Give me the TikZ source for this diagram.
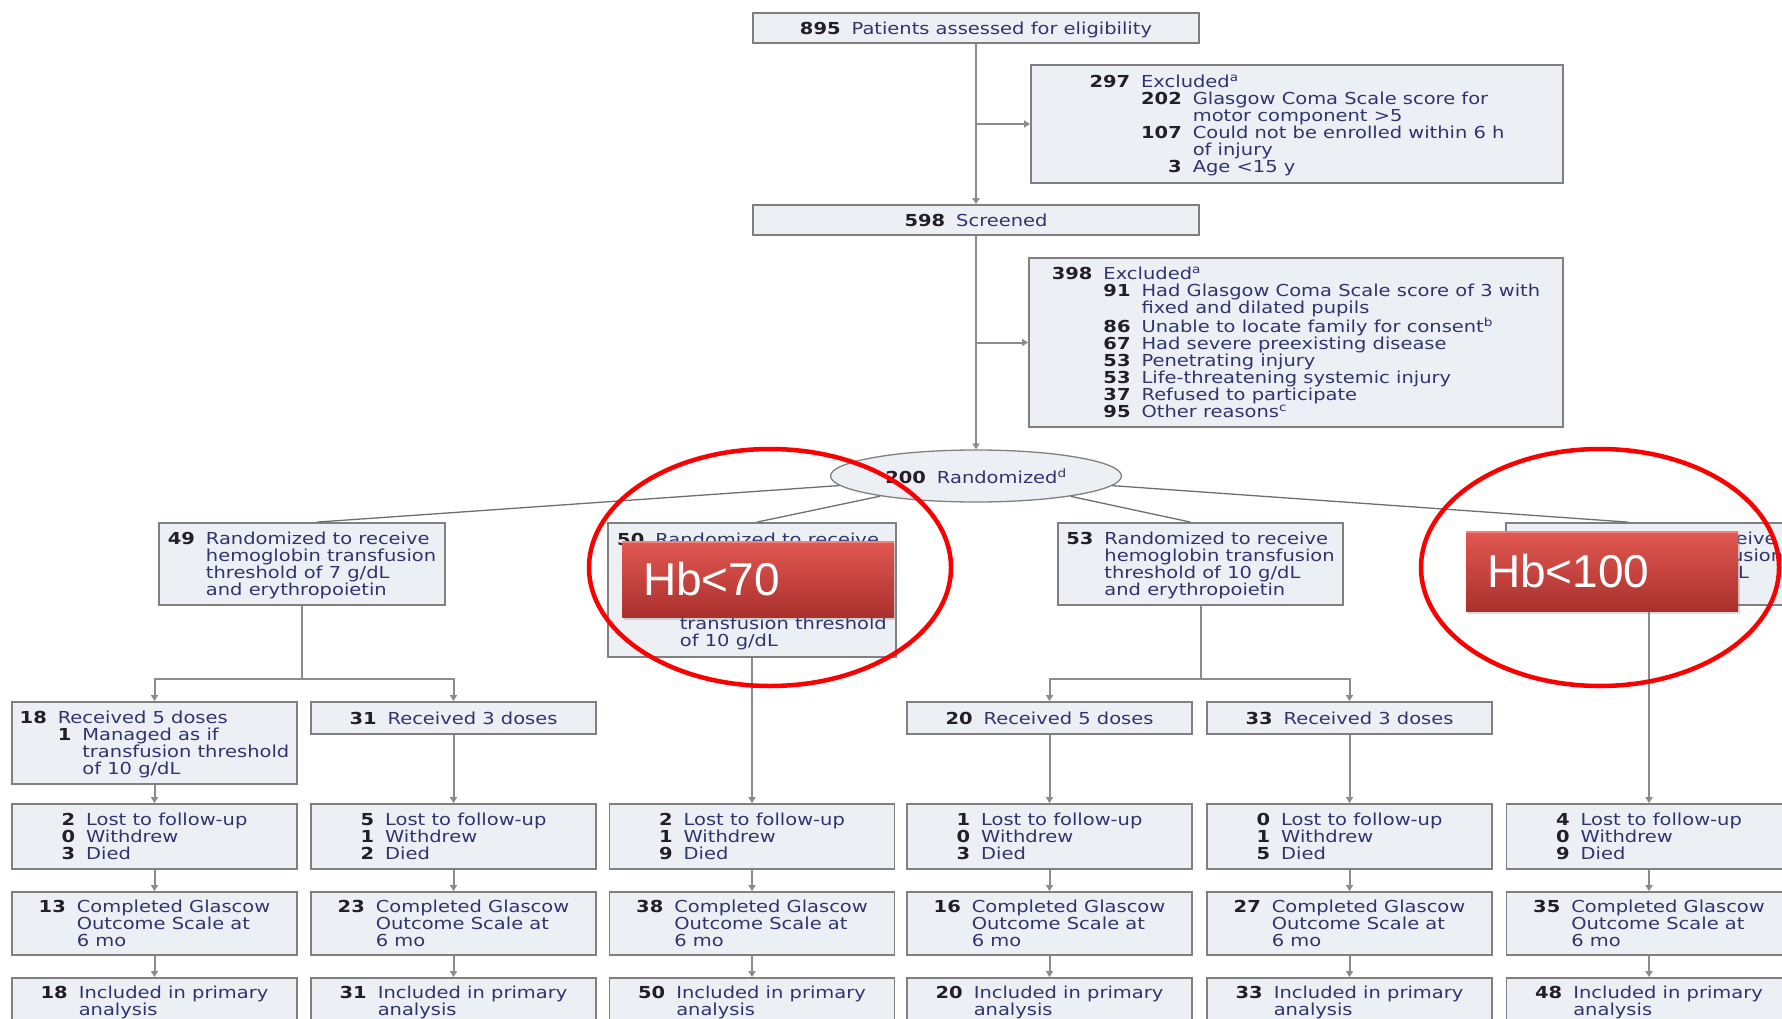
\documentclass[tikz,border=0pt]{standalone}
\usepackage{fontspec}
\setmainfont{DejaVu Sans}[FakeStretch=1.18]
\newfontfamily\hbfont{Liberation Sans}
\usepackage{tikz}
\usetikzlibrary{arrows.meta, shapes.geometric, shadows, positioning}
\definecolor{boxfill}{RGB}{236,240,244}
\definecolor{boxline}{RGB}{128,128,128}
\definecolor{flow}{RGB}{140,140,140}
\definecolor{fineline}{RGB}{110,110,110}
\definecolor{txtblue}{RGB}{48,52,110}
\definecolor{numdark}{RGB}{35,30,40}
\definecolor{hbtop}{RGB}{226,88,82}
\definecolor{hbbot}{RGB}{170,48,45}
\definecolor{hbhi}{RGB}{240,130,125}
\definecolor{ring}{RGB}{250,0,0}

\newcommand{\boxfont}{\fontsize{16.5}{16.9}\selectfont\setbox\strutbox\hbox{\vrule height 12.6pt depth 4.3pt width 0pt}}
\newcommand{\nm}[1]{\textcolor{numdark}{\bfseries #1}}
\newcommand{\rows}[1]{\raisebox{-2pt}[\height][\depth]{\begin{tabular}{@{}r@{\hspace{11pt}}l@{}}#1\end{tabular}}}
\newcommand{\subrows}[1]{\raisebox{-2pt}[\height][\depth]{\begin{tabular}{@{}r@{\hspace{11pt}}r@{\hspace{11pt}}l@{}}#1\end{tabular}}}

\begin{document}
\begin{tikzpicture}[x=1pt, y=-1pt,
        box/.style={draw=boxline, line width=1.8pt, fill=boxfill, text=txtblue, inner sep=4pt, font=\boxfont},
        col/.style={box, minimum width=285pt},
        arr/.style={draw=flow, line width=2pt, -{Triangle[length=6pt, width=7pt]}},
        line/.style={draw=flow, line width=2pt},
        fine/.style={draw=fineline, line width=1.3pt},
        hblabel/.style={minimum width=272pt, text width=230pt, inner xsep=21pt, align=left,
            top color=hbtop, bottom color=hbbot, text=white, font=\hbfont\fontsize{46}{50}\selectfont,
            drop shadow={shadow xshift=2pt, shadow yshift=-3pt, opacity=0.3},
            path picture={\draw[hbhi, line width=4pt] (path picture bounding box.north west) -- (path picture bounding box.north east);}},
        ringline/.style={draw=ring, line width=4.5pt}]
    \path[use as bounding box] (0,0) rectangle (1782,1019);
    \clip (0,0) rectangle (1782,1019);

    % screening
    \node[box, minimum width=446pt, minimum height=30pt] (top) at (976,28) {\rows{\nm{895} & Patients assessed for eligibility}};
    \node[box, minimum width=532pt, minimum height=118pt] (excl1) at (1297,124) {\subrows{\nm{297} & \multicolumn{2}{@{}l@{}}{Excluded\textsuperscript{a}}\\
        & \nm{202} & Glasgow Coma Scale score for\\
        & & motor component >5\\
        & \nm{107} & Could not be enrolled within 6 h\\
        & & of injury\\
        & \nm{3} & Age <15 y}};
    \node[box, minimum width=446pt, minimum height=30pt] (screened) at (976,220) {\rows{\nm{598} & Screened}};
    \node[box, minimum width=534pt, minimum height=169pt] (excl2) at (1296,342.5) {\subrows{\nm{398} & \multicolumn{2}{@{}l@{}}{Excluded\textsuperscript{a}}\\
        & \nm{91} & Had Glasgow Coma Scale score of 3 with\\
        & & fixed and dilated pupils\\
        & \nm{86} & Unable to locate family for consent\textsuperscript{b}\\
        & \nm{67} & Had severe preexisting disease\\
        & \nm{53} & Penetrating injury\\
        & \nm{53} & Life-threatening systemic injury\\
        & \nm{37} & Refused to participate\\
        & \nm{95} & Other reasons\textsuperscript{c}}};
    \node[box, ellipse, line width=1.3pt, minimum width=291pt, minimum height=52pt] (rand) at (976,476) {\nm{200}\hspace{11pt}Randomized\textsuperscript{d}};

    % arms
    \node[box, minimum width=286pt, minimum height=82pt] (armA) at (302,564) {\rows{\nm{49} & Randomized to receive\\
        & hemoglobin transfusion\\ & threshold of 7 g/dL\\ & and erythropoietin}};
    \node[box, minimum width=288pt, minimum height=134pt] (armB) at (752,590) {\subrows{\nm{50} & \multicolumn{2}{@{}l@{}}{Randomized to receive}\\
        & & \\ & & \\ & & \\ & \phantom{\nm{0}} & \\
        & & transfusion threshold\\ & & of 10 g/dL}};
    \node[box, minimum width=285pt, minimum height=82pt] (armC) at (1200.5,564) {\rows{\nm{53} & Randomized to receive\\
        & hemoglobin transfusion\\ & threshold of 10 g/dL\\ & and erythropoietin}};
    \node[box, minimum width=286pt, minimum height=82pt] (armD) at (1649,564) {\rows{\phantom{\nm{48}} & Randomized to receive\\
        & hemoglobin transfusion\\ & threshold of 10 g/dL\\ & }};

    % doses
    \node[col, minimum height=82pt] (recA5) at (154.5,743) {\subrows{\nm{18} & \multicolumn{2}{@{}l@{}}{Received 5 doses}\\
        & \nm{1} & Managed as if\\ & & transfusion threshold\\ & & of 10 g/dL}};
    \node[col, minimum height=32pt] (recA3) at (453.5,718) {\rows{\nm{31} & Received 3 doses}};
    \node[col, minimum height=32pt] (recC5) at (1049.5,718) {\rows{\nm{20} & Received 5 doses}};
    \node[col, minimum height=32pt] (recC3) at (1349.5,718) {\rows{\nm{33} & Received 3 doses}};

    % follow-up
    \node[col, minimum height=65pt] (lost0) at (154.5,836.5) {\rows{\nm{2} & Lost to follow-up\\ \nm{0} & Withdrew\\ \nm{3} & Died}};
    \node[col, minimum height=65pt] (lost1) at (453.5,836.5) {\rows{\nm{5} & Lost to follow-up\\ \nm{1} & Withdrew\\ \nm{2} & Died}};
    \node[col, minimum height=65pt] (lost2) at (752,836.5) {\rows{\nm{2} & Lost to follow-up\\ \nm{1} & Withdrew\\ \nm{9} & Died}};
    \node[col, minimum height=65pt] (lost3) at (1049.5,836.5) {\rows{\nm{1} & Lost to follow-up\\ \nm{0} & Withdrew\\ \nm{3} & Died}};
    \node[col, minimum height=65pt] (lost4) at (1349.5,836.5) {\rows{\nm{0} & Lost to follow-up\\ \nm{1} & Withdrew\\ \nm{5} & Died}};
    \node[col, minimum height=65pt] (lost5) at (1649,836.5) {\rows{\nm{4} & Lost to follow-up\\ \nm{0} & Withdrew\\ \nm{9} & Died}};

    \node[col, minimum height=63pt] (comp0) at (154.5,923.5) {\rows{\nm{13} & Completed Glascow\\ & Outcome Scale at\\ & 6 mo}};
    \node[col, minimum height=63pt] (comp1) at (453.5,923.5) {\rows{\nm{23} & Completed Glascow\\ & Outcome Scale at\\ & 6 mo}};
    \node[col, minimum height=63pt] (comp2) at (752,923.5) {\rows{\nm{38} & Completed Glascow\\ & Outcome Scale at\\ & 6 mo}};
    \node[col, minimum height=63pt] (comp3) at (1049.5,923.5) {\rows{\nm{16} & Completed Glascow\\ & Outcome Scale at\\ & 6 mo}};
    \node[col, minimum height=63pt] (comp4) at (1349.5,923.5) {\rows{\nm{27} & Completed Glascow\\ & Outcome Scale at\\ & 6 mo}};
    \node[col, minimum height=63pt] (comp5) at (1649,923.5) {\rows{\nm{35} & Completed Glascow\\ & Outcome Scale at\\ & 6 mo}};

    \node[col, minimum height=46pt] (incl0) at (154.5,1001) {\rows{\nm{18} & Included in primary\\ & analysis}};
    \node[col, minimum height=46pt] (incl1) at (453.5,1001) {\rows{\nm{31} & Included in primary\\ & analysis}};
    \node[col, minimum height=46pt] (incl2) at (752,1001) {\rows{\nm{50} & Included in primary\\ & analysis}};
    \node[col, minimum height=46pt] (incl3) at (1049.5,1001) {\rows{\nm{20} & Included in primary\\ & analysis}};
    \node[col, minimum height=46pt] (incl4) at (1349.5,1001) {\rows{\nm{33} & Included in primary\\ & analysis}};
    \node[col, minimum height=46pt] (incl5) at (1649,1001) {\rows{\nm{48} & Included in primary\\ & analysis}};

    % connectors
    \draw[arr] (top.south) -- (screened.north);
    \draw[arr] (top.south |- excl1.west) -- (excl1.west);
    \draw[arr] (screened.south) -- (rand.north);
    \draw[arr] (screened.south |- excl2.west) -- (excl2.west);

    \draw[fine] (rand) -- ([xshift=15pt]armA.north);
    \draw[fine] (rand) -- ([xshift=5pt]armB.north);
    \draw[fine] (rand) -- ([xshift=-10pt]armC.north);
    \draw[fine] (rand) -- ([xshift=-21pt]armD.north);

    \coordinate (splitA) at (armA.south |- 0,679);
    \coordinate (splitC) at (armC.south |- 0,679);
    \draw[line] (armA.south) -- (splitA);
    \draw[arr] (splitA) -| (recA5.north);
    \draw[arr] (splitA) -| (recA3.north);
    \draw[line] (armC.south) -- (splitC);
    \draw[arr] (splitC) -| (recC5.north);
    \draw[arr] (splitC) -| (recC3.north);

    \draw[arr] (recA5.south) -- (lost0.north);
    \draw[arr] (recA3.south) -- (lost1.north);
    \draw[arr] (armB.south) -- (lost2.north);
    \draw[arr] (recC5.south) -- (lost3.north);
    \draw[arr] (recC3.south) -- (lost4.north);
    \draw[arr] (armD.south) -- (lost5.north);

    \draw[arr] (lost0.south) -- (comp0.north);
    \draw[arr] (lost1.south) -- (comp1.north);
    \draw[arr] (lost2.south) -- (comp2.north);
    \draw[arr] (lost3.south) -- (comp3.north);
    \draw[arr] (lost4.south) -- (comp4.north);
    \draw[arr] (lost5.south) -- (comp5.north);

    \draw[arr] (comp0.south) -- (incl0.north);
    \draw[arr] (comp1.south) -- (incl1.north);
    \draw[arr] (comp2.south) -- (incl2.north);
    \draw[arr] (comp3.south) -- (incl3.north);
    \draw[arr] (comp4.south) -- (incl4.north);
    \draw[arr] (comp5.south) -- (incl5.north);

    % highlights
    \node[hblabel, minimum height=76pt] (hb70) at (758,579) {Hb<70};
    \node[hblabel, minimum height=80pt] (hb100) at (1602,571) {Hb<100};
    \draw[ringline] (770,567.5) ellipse [x radius=181pt, y radius=118.5pt];
    \draw[ringline] (1600,567.5) ellipse [x radius=179pt, y radius=118.5pt];
\end{tikzpicture}
\end{document}
